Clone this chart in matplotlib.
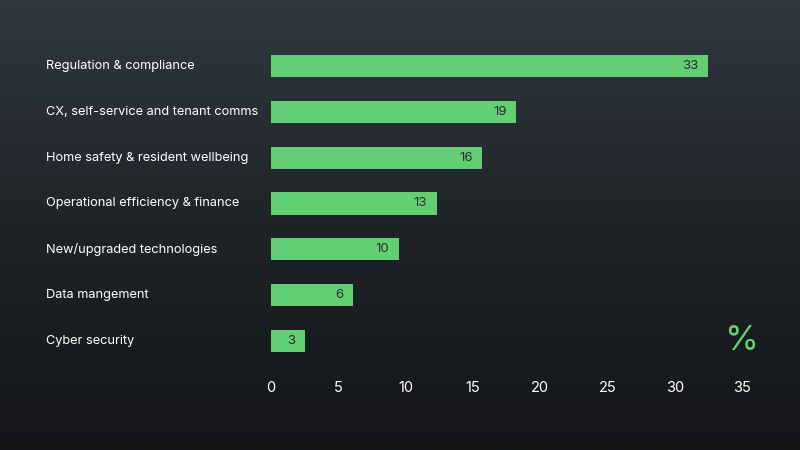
import matplotlib
matplotlib.use("Agg")
import matplotlib.pyplot as plt
import numpy as np
from matplotlib.colors import LinearSegmentedColormap

categories = ["Regulation & compliance", "CX, self-service and tenant comms",
              "Home safety & resident wellbeing", "Operational efficiency & finance",
              "New/upgraded technologies", "Data mangement", "Cyber security"]
values = [32.5, 18.2, 15.7, 12.3, 9.5, 6.1, 2.5]
labels = ["33", "19", "16", "13", "10", "6", "3"]
ticks = [0, 5, 10, 15, 20, 25, 30, 35]

plt.rcParams["font.family"] = "Inter"
fig = plt.figure(figsize=(8, 4.5), dpi=100)
bg = fig.add_axes([0, 0, 1, 1])
grad = np.linspace(0, 1, 256).reshape(-1, 1)
cm = LinearSegmentedColormap.from_list("g", ["#303840", "#1f2428", "#141618"])
bg.imshow(grad, aspect="auto", cmap=cm, extent=[0, 1, 0, 1])
bg.axis("off")

ax = fig.add_axes([271/800, 1-364/450, (742-271)/800, (364-43)/450])
ax.set_facecolor("none")
y = np.arange(len(categories))
ax.barh(y, values, height=0.48, color="#62cf73")
for yi, v, l in zip(y, values, labels):
    ax.text(v - 0.7, yi, l, ha="right", va="center", fontsize=9.5, color="#2a2e33")
for yi, c in zip(y, categories):
    ax.text(46/800, 1-(66+45.8*yi)/450, c, transform=fig.transFigure, ha="left",
            va="center", fontsize=9.2, color="white")
ax.set_ylim(6.5, -0.5)
ax.set_xlim(0, 35)
ax.set_xticks(ticks)
ax.tick_params(axis="x", colors="white", labelsize=10.5, length=0, pad=12)
ax.set_yticks([])
for s in ax.spines.values():
    s.set_visible(False)
fig.text(741/800, 1-341/450, "%", ha="center", va="center", fontsize=25, color="#62cf73")
fig.savefig("out.png", dpi=100)
